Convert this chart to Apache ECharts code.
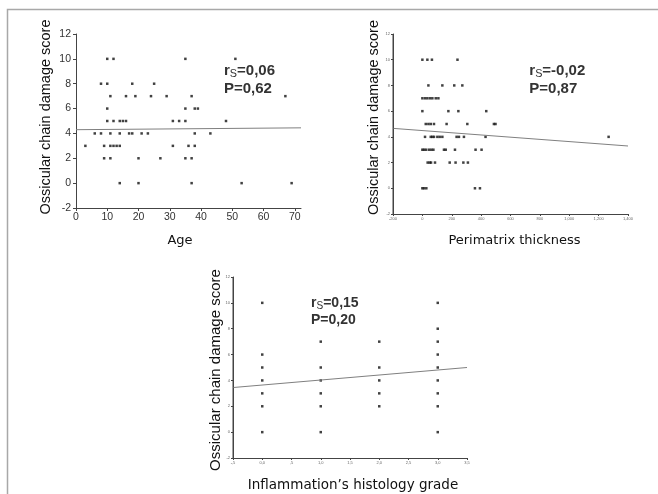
<!DOCTYPE html>
<html><head><meta charset="utf-8">
<script src="https://cdn.jsdelivr.net/npm/echarts@6/dist/echarts.min.js"></script>
<style>html,body{margin:0;padding:0;background:#fff}#c{width:658px;height:494px}</style>
</head><body><div id="c"></div>
<script>
// ---- Data ----
const yRange = [-2, 12];
const ageRange = [0, 72];
const periRange = [-200, 1400];
const gradeRange = [-0.5, 3.5];
const ageTicks = [0, 10, 20, 30, 40, 50, 60, 70];
const gradeTickLabels = ['-,5', '0,0', ',5', '1,0', '1,5', '2,0', '2,5', '3,0', '3,5'];

const ageX = [10,12,35,51, 8,10,18,25, 11,16,19,24,29,37,67, 10,35,38,39,
  10,12,14,15,16,31,33,35,48, 6,8,11,14,17,18,21,23,38,43,
  3,9,11,12,13,14,31,36,38, 9,11,20,27,35,37, 14,20,37,53,69];
const ageY = [10,10,10,10, 8,8,8,8, 7,7,7,7,7,7,7, 6,6,6,6,
  5,5,5,5,5,5,5,5,5, 4,4,4,4,4,4,4,4,4,4,
  3,3,3,3,3,3,3,3,3, 2,2,2,2,2,2, 0,0,0,0,0];
const ageFit = [[0, 4.3], [72, 4.45]];

const periX = [0,34,65,239, 41,136,217,272, 0,18,34,52,68,91,109, 0,177,245,435,
  23,41,57,79,165,306,487,498, 18,57,68,79,102,118,136,233,249,283,430,1268,
  0,11,25,45,61,75,147,159,222,362,403, 36,50,59,86,186,226,279,310, 0,11,27,358,392];
const periY = [10,10,10,10, 8,8,8,8, 7,7,7,7,7,7,7, 6,6,6,6,
  5,5,5,5,5,5,5,5, 4,4,4,4,4,4,4,4,4,4,4,4,
  3,3,3,3,3,3,3,3,3,3,3, 2,2,2,2,2,2,2,2, 0,0,0,0,0];
const periFit = [[-200, 4.66], [1400, 3.29]];

const gradeX = [0,0,0,0,0,0,0, 1,1,1,1,1,1, 2,2,2,2,2, 3,3,3,3,3,3,3,3,3];
const gradeY = [10,6,5,4,3,2,0, 7,5,4,3,2,0, 7,5,4,3,2, 10,8,7,6,5,4,3,2,0];
const gradeFit = [[-0.5, 3.45], [3.5, 5.0]];

const stats = [
  { r: '=0,06', p: 'P=0,62' },
  { r: '=-0,02', p: 'P=0,87' },
  { r: '=0,15', p: 'P=0,20' }
];
const yTitle = 'Ossicular chain damage score';
const xTitles = ['Age', 'Perimatrix thickness', 'Inflammation\u2019s histology grade'];

// ---- Chart ----
const ARIAL = '"Liberation Sans", Arial, sans-serif';
const VERD = '"DejaVu Sans", Verdana, sans-serif';
const AXC = '#444';
const pairs = (xs, ys) => xs.map((x, i) => [x, ys[i]]);

function yAxis(gi, big) {
  return {
    type: 'value', gridIndex: gi, min: yRange[0], max: yRange[1], interval: 2,
    axisLine: { show: true, onZero: false, lineStyle: { color: AXC, width: 1 } },
    axisTick: { show: true, length: big ? 3 : 2, lineStyle: { color: AXC } },
    splitLine: { show: false },
    axisLabel: { fontSize: big ? 10.5 : 4, color: big ? '#333' : '#666', fontFamily: ARIAL, margin: big ? 5 : 3 }
  };
}

// left axis edge drawn as a series through the scales (backup for the axis line)
function edgeSeries(gi, xmin) {
  return {
    type: 'line', xAxisIndex: gi, yAxisIndex: gi, clip: false, z: 5,
    data: [[xmin, yRange[0]], [xmin, yRange[1]]], symbol: 'none',
    lineStyle: { color: AXC, width: 1 }
  };
}

const scatterStyle = { color: '#111' };
const fitStyle = { color: '#808080', width: 1 };

const option = {
  animation: false,
  backgroundColor: '#fff',
  grid: [
    { left: 76, top: 34, width: 225, height: 174, outerBoundsMode: 'none' },
    { left: 393, top: 34, width: 235, height: 180, outerBoundsMode: 'none' },
    { left: 233, top: 277, width: 234, height: 181, outerBoundsMode: 'none' }
  ],
  xAxis: [
    {
      type: 'value', gridIndex: 0, min: ageRange[0], max: ageRange[1],
      axisLine: { show: true, onZero: false, lineStyle: { color: AXC, width: 1 } },
      axisTick: { show: true, length: 3, customValues: ageTicks, lineStyle: { color: AXC } },
      axisLabel: { customValues: ageTicks, fontSize: 10.5, color: '#333', fontFamily: ARIAL, margin: 4 },
      splitLine: { show: false },
      name: xTitles[0], nameLocation: 'middle', nameGap: 26,
      nameTextStyle: { fontFamily: VERD, fontSize: 13, color: '#111', padding: [0, 17, 0, 0] }
    },
    {
      type: 'value', gridIndex: 1, min: periRange[0], max: periRange[1], interval: 200,
      axisLine: { show: true, onZero: false, lineStyle: { color: AXC, width: 1 } },
      axisTick: { show: true, length: 2, lineStyle: { color: AXC } },
      axisLabel: { fontSize: 4, color: '#666', fontFamily: ARIAL, margin: 3 },
      splitLine: { show: false },
      name: xTitles[1], nameLocation: 'middle', nameGap: 20,
      nameTextStyle: { fontFamily: VERD, fontSize: 13, color: '#111', padding: [0, 0, 0, 8] }
    },
    {
      type: 'value', gridIndex: 2, min: gradeRange[0], max: gradeRange[1], interval: 0.5,
      axisLine: { show: true, onZero: false, lineStyle: { color: AXC, width: 1 } },
      axisTick: { show: true, length: 2, lineStyle: { color: AXC } },
      axisLabel: {
        fontSize: 4, color: '#666', fontFamily: ARIAL, margin: 3,
        formatter: v => gradeTickLabels[Math.round((v - gradeRange[0]) / 0.5)]
      },
      splitLine: { show: false },
      name: xTitles[2], nameLocation: 'middle', nameGap: 20,
      nameTextStyle: { fontFamily: VERD, fontSize: 13.5, color: '#111', padding: [0, 0, 0, 6] }
    }
  ],
  yAxis: [yAxis(0, true), yAxis(1, false), yAxis(2, false)],
  series: [
    { type: 'scatter', xAxisIndex: 0, yAxisIndex: 0, data: pairs(ageX, ageY), symbol: 'rect', symbolSize: 2.5, itemStyle: scatterStyle },
    { type: 'line', xAxisIndex: 0, yAxisIndex: 0, data: ageFit, symbol: 'none', lineStyle: fitStyle },
    { type: 'scatter', xAxisIndex: 1, yAxisIndex: 1, data: pairs(periX, periY), symbol: 'rect', symbolSize: 2.5, itemStyle: scatterStyle },
    { type: 'line', xAxisIndex: 1, yAxisIndex: 1, data: periFit, symbol: 'none', lineStyle: fitStyle },
    { type: 'scatter', xAxisIndex: 2, yAxisIndex: 2, data: pairs(gradeX, gradeY), symbol: 'rect', symbolSize: 2.5, itemStyle: scatterStyle },
    { type: 'line', xAxisIndex: 2, yAxisIndex: 2, data: gradeFit, symbol: 'none', lineStyle: fitStyle },
    edgeSeries(1, periRange[0]),
    edgeSeries(2, gradeRange[0])
  ],
  graphic: []
};

// frame
option.graphic.push({
  type: 'polyline', silent: true,
  shape: { points: [[7.5, 494], [7.5, 9.5], [658, 9.5]] },
  style: { stroke: '#a8a8a8', lineWidth: 1.5, fill: null }
});

// y titles
function yTitleEl(cx, cy, size) {
  return {
    type: 'text', x: cx, y: cy, rotation: Math.PI / 2, silent: true,
    style: { text: yTitle, fontFamily: ARIAL, fontSize: size, fill: '#111', align: 'center', verticalAlign: 'middle' }
  };
}
option.graphic.push(yTitleEl(45.5, 117, 14.5));
option.graphic.push(yTitleEl(374, 117.5, 14.5));
option.graphic.push(yTitleEl(215.7, 370, 15));

// statistics annotations
function statEl(x, y, st, size, lh) {
  return {
    type: 'text', x: x, y: y, silent: true,
    style: {
      text: '{r|r}{s|S}{r|' + st.r + '}\n{r|' + st.p + '}',
      align: 'left', verticalAlign: 'top',
      rich: {
        r: { fontFamily: ARIAL, fontWeight: 'bold', fontSize: size, lineHeight: lh, fill: '#333' },
        s: { fontFamily: ARIAL, fontWeight: 'normal', fontSize: size * 0.72, padding: [6, 0, 0, 0], fill: '#333' }
      }
    }
  };
}
option.graphic.push(statEl(224, 62, stats[0], 15, 18));
option.graphic.push(statEl(529.3, 62, stats[1], 15, 18));
option.graphic.push(statEl(311, 295, stats[2], 14, 17));

const chart = echarts.init(document.getElementById('c'), null, { renderer: 'canvas' });
chart.setOption(option);
</script></body></html>
